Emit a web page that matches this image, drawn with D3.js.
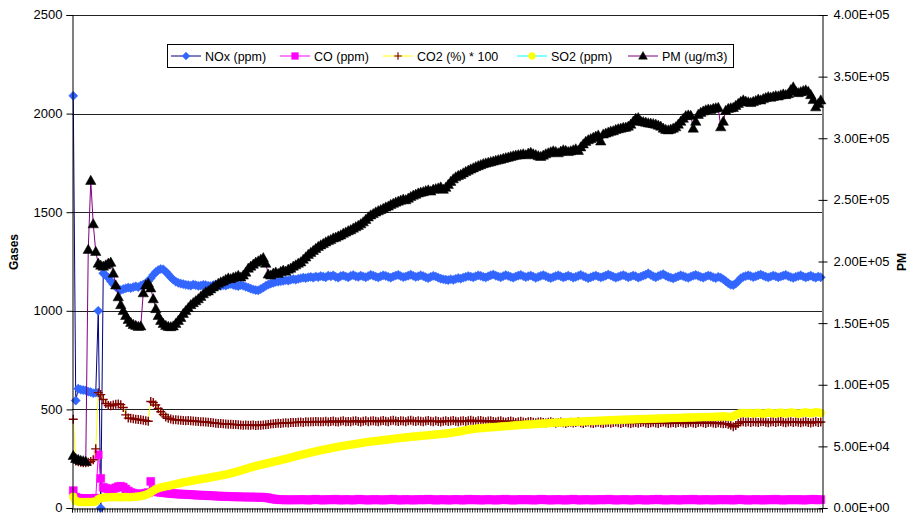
<!DOCTYPE html>
<html><head><meta charset="utf-8">
<script src="https://cdn.jsdelivr.net/npm/d3@7"></script>
<style>
html,body{margin:0;padding:0;background:#fff;}
text{font-family:Arial,"Liberation Sans",sans-serif;}
</style></head>
<body><svg id="chart" width="912" height="514"></svg>
<script>
// ---------- DATA ----------
const nox = [
2090,545,605,600,598,596,590,588,582,585,
1000,0,1190,1180,1168,1150,1135,1122,1112,1105,
1110,1114,1118,1115,1120,1124,1120,1128,1133,1140,
1150,1165,1182,1196,1206,1212,1210,1198,1185,1170,
1158,1148,1142,1138,1135,1132,1130,1128,1133,1130,
1126,1128,1132,1130,1127,1125,1130,1134,1128,1126,
1130,1128,1133,1136,1131,1128,1125,1130,1127,1122,
1118,1112,1108,1105,1104,1110,1118,1126,1133,1138,
1142,1146,1148,1150,1152,1156,1153,1158,1161,1158,
1162,1165,1168,1166,1170,1172,1168,1174,1171,1176,
1173,1170,1178,1175,1180,1172,1168,1176,1179,1174,
1170,1177,1181,1175,1172,1178,1174,1170,1176,1182,
1178,1173,1169,1175,1180,1177,1172,1168,1174,1179,
1182,1176,1171,1174,1178,1183,1177,1172,1175,1180,
1176,1170,1166,1172,1177,1174,1168,1163,1160,1158,
1156,1160,1157,1162,1166,1163,1168,1172,1176,1173,
1170,1175,1180,1177,1172,1169,1175,1180,1184,1178,
1174,1170,1176,1181,1177,1172,1168,1174,1178,1182,
1176,1171,1175,1179,1173,1167,1172,1177,1181,1176,
1170,1166,1171,1176,1180,1175,1169,1173,1178,1174,
1168,1172,1177,1182,1176,1171,1165,1170,1175,1179,
1174,1169,1173,1178,1184,1179,1173,1168,1172,1177,
1181,1176,1170,1174,1179,1175,1168,1173,1178,1183,
1190,1182,1175,1170,1176,1181,1186,1178,1172,1168,
1164,1170,1175,1180,1176,1171,1167,1173,1178,1182,
1177,1172,1168,1174,1179,1176,1170,1166,1172,1168,
1160,1150,1140,1132,1130,1138,1150,1165,1172,1176,
1180,1176,1171,1175,1180,1184,1178,1173,1169,1174,
1179,1175,1170,1174,1178,1182,1176,1171,1167,1172,
1176,1180,1174,1169,1173,1178,1172,1168,1174,1170];

const co = [
88,55,50,48,48,47,48,47,48,50,
270,150,105,100,96,94,97,102,108,110,
106,96,86,79,75,72,70,70,72,75,
78,135,92,84,81,79,78,77,75,74,
73,72,71,70,70,69,68,68,67,66,
65,65,64,64,63,62,62,61,60,60,
59,59,58,58,57,57,57,56,56,56,
55,56,55,55,54,55,54,53,51,48,
46,44,43,42,42,41,42,41,41,42,
42,41,43,42,40,41,43,44,42,41,
40,42,43,41,42,44,42,40,41,43,
42,41,40,42,44,43,41,42,40,41,
43,42,41,42,40,41,43,42,44,42,
41,40,42,43,41,42,40,41,43,42,
41,42,44,43,41,40,42,41,43,42,
40,41,42,43,42,41,40,42,44,42,
41,43,42,40,41,42,43,41,42,40,
41,43,42,44,42,41,40,42,41,43,
42,41,43,42,40,41,42,44,43,41,
42,40,41,43,42,41,42,40,41,43,
44,42,41,40,42,43,41,42,40,41,
43,42,41,42,44,43,41,40,42,41,
42,43,41,40,41,42,43,42,41,40,
42,41,43,42,44,42,41,40,42,41,
43,42,40,41,42,43,41,42,44,42,
41,40,42,43,41,42,40,41,43,42,
41,42,43,41,40,42,44,43,42,41,
40,42,41,43,42,41,40,42,43,41,
42,44,42,41,40,42,41,43,42,41,
43,42,40,41,42,43,44,42,41,43];

const co2x100 = [
450,238,235,232,230,230,232,236,245,300,
585,575,550,530,520,518,522,526,528,524,
510,472,456,455,452,450,449,447,445,443,
440,540,535,522,505,488,474,462,455,451,
448,447,446,445,444,443,444,442,441,440,
439,438,437,436,435,433,432,430,429,428,
427,426,425,425,424,423,422,421,420,421,
420,419,421,418,420,419,421,422,424,426,
427,428,430,429,431,432,431,433,434,433,
435,436,434,437,436,438,437,439,437,438,
437,440,436,439,441,438,436,440,442,438,
439,437,441,443,439,436,440,442,438,441,
443,440,437,441,444,440,438,442,445,441,
439,443,441,438,442,445,441,439,443,440,
437,441,444,440,438,442,439,436,440,443,
439,441,444,440,437,441,443,439,442,445,
441,438,442,444,440,437,441,443,439,436,
440,442,438,435,439,441,437,434,438,440,
436,433,437,439,435,432,436,438,434,431,
435,437,433,430,434,436,432,429,433,435,
431,434,437,432,429,433,436,431,428,432,
435,431,428,432,434,430,433,436,432,429,
433,435,431,428,432,434,430,433,436,431,
428,432,435,431,429,433,436,432,428,431,
434,430,433,436,431,428,432,435,431,429,
433,436,432,429,433,435,431,428,432,430,
427,428,425,420,412,418,428,436,438,435,
437,434,438,436,433,437,439,435,432,436,
438,434,437,439,435,432,436,438,434,437,
435,432,436,438,434,431,435,437,433,436];

const so2 = [
57,35,32,30,30,30,31,30,32,33,
45,50,52,53,54,55,55,56,55,54,
55,56,55,55,56,57,58,60,63,67,
72,80,88,95,100,104,107,110,112,115,
118,121,124,126,130,132,134,137,140,142,
144,146,149,150,153,155,158,160,162,165,
167,170,173,176,179,183,186,190,194,198,
202,206,209,213,216,219,222,225,228,231,
234,237,240,243,246,249,252,256,259,263,
266,269,272,275,278,281,284,287,290,293,
296,298,301,303,306,308,311,313,315,317,
319,321,323,325,327,329,331,333,335,337,
338,340,341,343,344,346,347,349,350,352,
354,355,357,358,359,361,362,363,364,366,
367,368,369,370,372,373,374,375,376,378,
379,381,383,385,387,389,392,395,397,399,
401,402,404,405,406,407,408,409,410,411,
412,413,414,415,416,417,418,419,420,421,
422,423,424,424,425,426,427,427,428,429,
430,431,432,432,433,434,434,435,436,436,
437,437,438,439,439,440,440,441,441,442,
443,443,444,444,445,445,446,446,447,447,
448,448,449,449,449,450,450,451,451,451,
452,452,453,453,454,454,454,455,455,456,
456,457,457,457,458,458,459,459,459,460,
460,460,461,461,462,462,462,463,463,464,
464,464,463,462,465,472,478,481,482,480,
480,482,479,481,483,480,478,481,484,482,
480,479,482,484,481,479,482,485,483,480,
478,481,483,485,482,480,483,486,484,482];

const pm = [
42.4e3,40.0e3,39.2e3,38.4e3,38.1e3,37.6e3,209.6e3,265.6e3,230.4e3,208.0e3,
198.4e3,196.8e3,196.0e3,197.1e3,198.4e3,199.2e3,190.4e3,180.8e3,171.2e3,164.8e3,
160.0e3,156.0e3,152.8e3,150.4e3,148.8e3,148.0e3,147.2e3,147.5e3,174.4e3,180.8e3,
182.4e3,178.4e3,169.6e3,161.6e3,156.0e3,152.0e3,149.6e3,148.0e3,147.2e3,146.9e3,
147.5e3,149.6e3,152.0e3,154.4e3,157.6e3,160.0e3,162.4e3,164.8e3,166.4e3,168.0e3,
169.6e3,171.5e3,173.6e3,175.2e3,176.0e3,177.6e3,179.2e3,180.5e3,182.1e3,183.2e3,
184.0e3,185.3e3,186.4e3,185.9e3,186.9e3,187.5e3,188.5e3,187.2e3,188.8e3,191.2e3,
194.4e3,196.0e3,197.6e3,199.2e3,200.3e3,201.6e3,202.9e3,198.4e3,189.6e3,188.8e3,
190.4e3,191.2e3,190.1e3,191.7e3,192.8e3,192.0e3,193.6e3,194.4e3,196.0e3,197.1e3,
198.4e3,199.5e3,201.6e3,203.5e3,205.6e3,207.2e3,208.8e3,210.4e3,212.0e3,213.3e3,
214.4e3,215.7e3,216.8e3,217.6e3,218.9e3,219.5e3,220.5e3,221.4e3,222.7e3,223.7e3,
224.8e3,225.6e3,226.9e3,228.0e3,229.1e3,230.4e3,232.0e3,233.9e3,236.0e3,237.6e3,
238.7e3,240.0e3,241.0e3,241.9e3,242.9e3,244.0e3,244.8e3,246.1e3,247.0e3,248.0e3,
248.8e3,249.6e3,250.4e3,249.9e3,251.2e3,252.5e3,253.6e3,254.4e3,255.4e3,256.0e3,
256.5e3,257.3e3,257.9e3,257.0e3,258.4e3,258.9e3,259.5e3,260.3e3,258.4e3,260.0e3,
262.4e3,264.8e3,266.9e3,268.5e3,269.6e3,270.4e3,271.7e3,272.8e3,273.9e3,274.9e3,
275.8e3,276.8e3,277.6e3,278.4e3,279.2e3,279.7e3,280.3e3,280.8e3,281.3e3,281.9e3,
282.4e3,282.9e3,283.5e3,284.0e3,284.5e3,285.1e3,285.6e3,286.1e3,286.4e3,286.7e3,
287.2e3,286.4e3,287.7e3,288.3e3,287.2e3,286.4e3,285.6e3,285.1e3,286.1e3,287.2e3,
288.0e3,288.8e3,289.6e3,289.0e3,288.0e3,289.3e3,290.4e3,289.9e3,289.0e3,289.6e3,
290.4e3,291.2e3,289.9e3,292.8e3,295.2e3,297.3e3,298.6e3,299.5e3,300.5e3,301.4e3,
302.4e3,297.6e3,303.2e3,304.0e3,304.8e3,305.6e3,305.9e3,306.9e3,307.5e3,308.0e3,
308.5e3,308.8e3,309.6e3,311.2e3,313.6e3,316.0e3,316.5e3,313.9e3,313.3e3,312.8e3,
312.3e3,312.0e3,311.7e3,311.2e3,310.4e3,309.6e3,308.0e3,306.9e3,306.6e3,307.2e3,
308.0e3,309.1e3,311.2e3,313.6e3,316.0e3,318.1e3,318.7e3,318.4e3,308.0e3,313.6e3,
319.2e3,320.8e3,321.9e3,322.9e3,323.5e3,323.2e3,324.0e3,324.5e3,324.8e3,309.1e3,
313.6e3,322.4e3,324.0e3,324.5e3,324.8e3,326.4e3,328.0e3,329.6e3,330.9e3,329.9e3,
329.3e3,328.8e3,329.6e3,330.4e3,331.5e3,330.9e3,332.0e3,332.8e3,333.6e3,333.1e3,
333.8e3,334.4e3,334.1e3,335.0e3,335.7e3,335.2e3,336.0e3,339.2e3,341.4e3,337.9e3,
336.8e3,337.6e3,338.4e3,339.0e3,337.9e3,335.2e3,331.2e3,325.3e3,328.0e3,330.9e3];

const gasTicks = [0, 500, 1000, 1500, 2000, 2500];
const pmTicks = [0, 50000, 100000, 150000, 200000, 250000, 300000, 350000, 400000];
const seriesNames = ["NOx (ppm)", "CO (ppm)", "CO2 (%) * 100", "SO2 (ppm)", "PM (ug/m3)"];

// ---------- LAYOUT ----------
const svg = d3.select("#chart");
const L = 72, R = 822, T = 15, B = 508;
const N = nox.length;
const samples = d3.range(N);
const x = d3.scaleBand().domain(samples).range([L, R]).padding(0);
const xc = i => x(i) + x.bandwidth() / 2;
const yL = d3.scaleLinear().domain([0, 2500]).range([B, T]);
const yR = d3.scaleLinear().domain([0, 400000]).range([B, T]);

svg.append("rect").attr("width", 912).attr("height", 514).attr("fill", "#fff");

// gridlines
svg.append("g").selectAll("line").data(gasTicks.filter(d => d > 0)).join("line")
  .attr("x1", L).attr("x2", R).attr("y1", d => Math.round(yL(d)) + 0.5).attr("y2", d => Math.round(yL(d)) + 0.5)
  .attr("stroke", "#222").attr("stroke-width", 1);

// ---------- SERIES ----------
const shapes = {
  diamond: "M0,-4.6L4.6,0L0,4.6L-4.6,0Z",
  square: "M-4,-4H4V4H-4Z",
  plus: "M-4.5,0H4.5M0,-4.5V4.5",
  circle: "M4,0A4,4,0,1,1,-4,0A4,4,0,1,1,4,0Z",
  triangle: "M0,-5.4L5.2,3.8L-5.2,3.8Z"
};
const series = [
  {name: seriesNames[0], values: nox, y: yL, line: "#000080", shape: "diamond", fill: "#3366ff", stroke: "#3366ff", sw: 0.5},
  {name: seriesNames[1], values: co, y: yL, line: "#ff00ff", shape: "square", fill: "#ff00ff", stroke: "#ff00ff", sw: 0.5},
  {name: seriesNames[2], values: co2x100, y: yL, line: "#ffff00", shape: "plus", fill: "none", stroke: "#800000", sw: 1.4},
  {name: seriesNames[3], values: so2, y: yL, line: "#00ffff", shape: "circle", fill: "#ffff00", stroke: "#ffff00", sw: 0.5},
  {name: seriesNames[4], values: pm, y: yR, line: "#800080", shape: "triangle", fill: "#000000", stroke: "#000000", sw: 0.5}
];

series.forEach(s => {
  const g = svg.append("g");
  const line = d3.line().x((d, i) => xc(i)).y(d => s.y(d));
  g.append("path").datum(s.values).attr("d", line)
    .attr("fill", "none").attr("stroke", s.line).attr("stroke-width", 1);
  g.selectAll("path.m").data(s.values).join("path").attr("class", "m")
    .attr("d", shapes[s.shape])
    .attr("transform", (d, i) => `translate(${xc(i)},${s.y(d)})`)
    .attr("fill", s.fill).attr("stroke", s.stroke).attr("stroke-width", s.sw);
});

// ---------- AXES ----------
const fnt = "Arial, 'Liberation Sans', sans-serif";
// left axis
const gl = svg.append("g").attr("transform", `translate(${L + 0.5},0)`)
  .call(d3.axisLeft(yL).tickValues(gasTicks).tickSize(6).tickPadding(4).tickFormat(d3.format("d")));
gl.select(".domain").attr("stroke", "#000");
gl.selectAll(".tick line").attr("stroke", "#000");
gl.selectAll("text").attr("font-size", 13).attr("font-family", fnt).attr("fill", "#000").attr("dy", "0.3em");

// right axis
const expFmt = v => {
  const [m, e] = v.toExponential(2).split("e");
  const sign = e[0] === "-" ? "-" : "+";
  const ex = String(Math.abs(+e)).padStart(2, "0");
  return m + "E" + sign + ex;
};
const gr = svg.append("g").attr("transform", `translate(${R + 0.5},0)`)
  .call(d3.axisRight(yR).tickValues(pmTicks).tickSize(5).tickPadding(6).tickFormat(expFmt));
gr.select(".domain").attr("stroke", "#000");
gr.selectAll(".tick line").attr("stroke", "#000").attr("x1", -4);
gr.selectAll("text").attr("font-size", 13).attr("font-family", fnt).attr("fill", "#000").attr("dy", "0.3em");

// bottom axis (category ticks between samples)
const xb = d3.scaleLinear().domain([0, N]).range([L, R]);
const gb = svg.append("g").attr("transform", `translate(0,${B + 0.5})`)
  .call(d3.axisBottom(xb).tickValues(d3.range(0, N + 1)).tickSize(4).tickFormat(""));
gb.select(".domain").attr("stroke", "#000");
gb.selectAll(".tick line").attr("stroke", "#000").attr("stroke-width", 0.8);

// axis titles
svg.append("text").attr("transform", "translate(18,252) rotate(-90)")
  .attr("text-anchor", "middle").attr("font-size", 12).attr("font-weight", "bold").attr("font-family", fnt).text("Gases");
svg.append("text").attr("transform", "translate(906,262) rotate(-90)")
  .attr("text-anchor", "middle").attr("font-size", 12).attr("font-weight", "bold").attr("font-family", fnt).text("PM");

// ---------- LEGEND ----------
const lg = svg.append("g");
lg.append("rect").attr("x", 167.5).attr("y", 44.5).attr("width", 566).attr("height", 23)
  .attr("fill", "#fff").attr("stroke", "#000").attr("stroke-width", 1);
const legX = [171, 280, 383, 517, 628];
series.forEach((s, k) => {
  const x0 = legX[k], cy = 56;
  lg.append("line").attr("x1", x0).attr("x2", x0 + 30).attr("y1", cy).attr("y2", cy)
    .attr("stroke", s.line).attr("stroke-width", 1);
  lg.append("path").attr("d", shapes[s.shape]).attr("transform", `translate(${x0 + 15},${cy}) scale(0.85)`)
    .attr("fill", s.fill).attr("stroke", s.stroke).attr("stroke-width", s.sw);
  lg.append("text").attr("x", x0 + 34).attr("y", cy + 4.5).attr("font-size", 12.5)
    .attr("font-family", fnt).text(s.name);
});
</script></body></html>
